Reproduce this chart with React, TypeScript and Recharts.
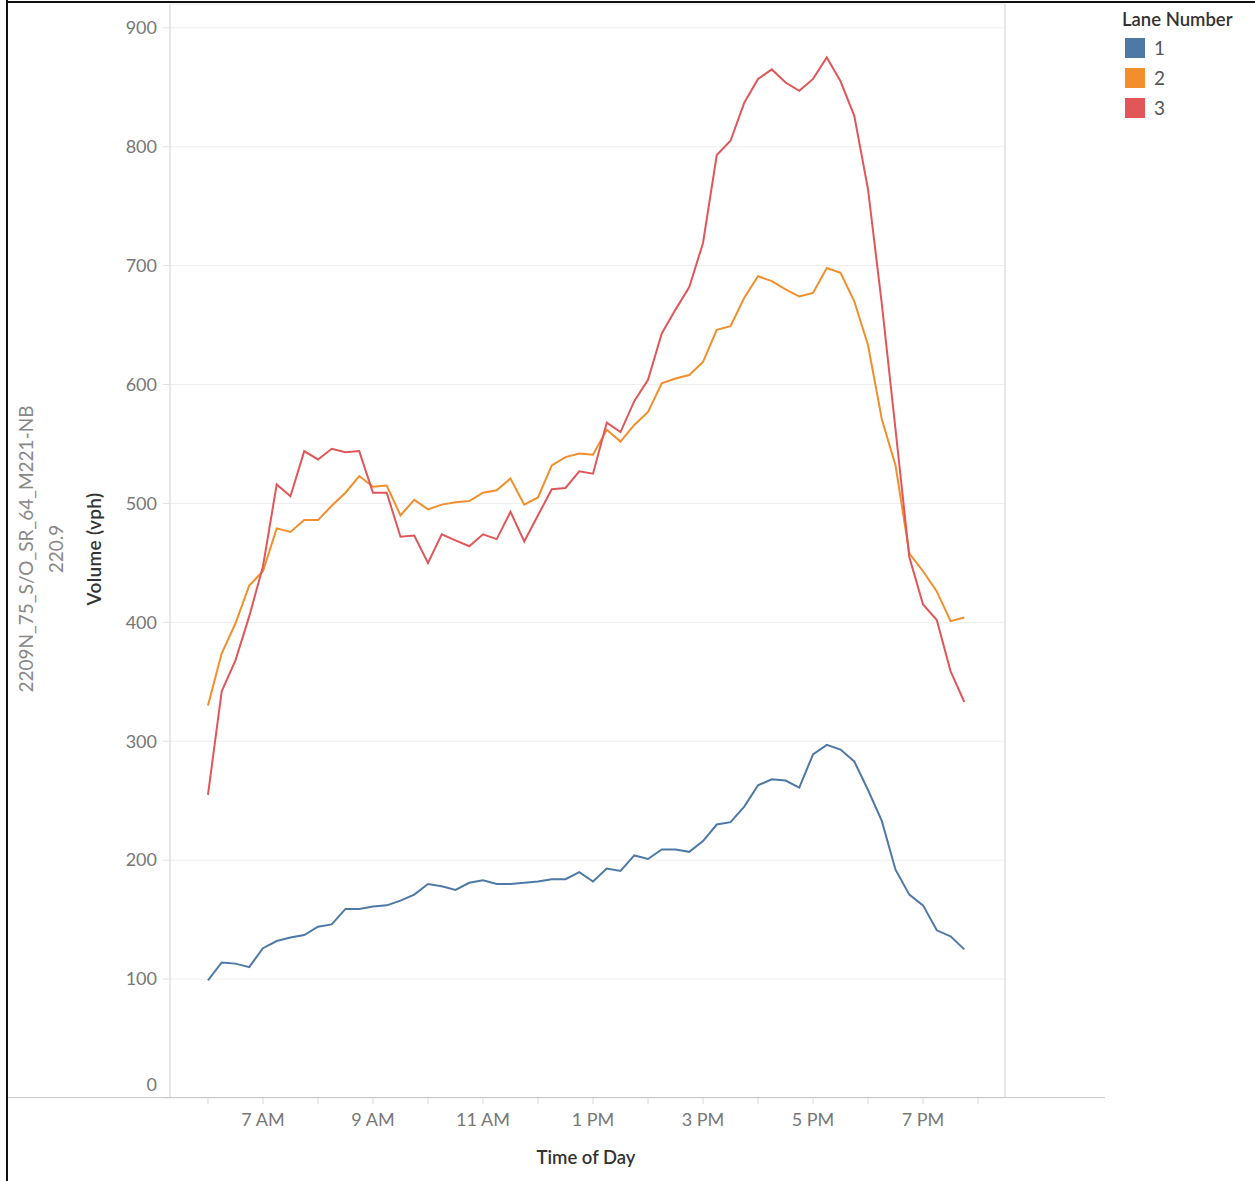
import React from "react";
import { LineChart, Line, XAxis, YAxis, CartesianGrid } from "recharts";

// 15-minute bins, 6:00 to 19:45
const times = [
  "6:00", "6:15", "6:30", "6:45", "7:00", "7:15", "7:30", "7:45",
  "8:00", "8:15", "8:30", "8:45", "9:00", "9:15", "9:30", "9:45",
  "10:00", "10:15", "10:30", "10:45", "11:00", "11:15", "11:30", "11:45",
  "12:00", "12:15", "12:30", "12:45", "13:00", "13:15", "13:30", "13:45",
  "14:00", "14:15", "14:30", "14:45", "15:00", "15:15", "15:30", "15:45",
  "16:00", "16:15", "16:30", "16:45", "17:00", "17:15", "17:30", "17:45",
  "18:00", "18:15", "18:30", "18:45", "19:00", "19:15", "19:30", "19:45",
];

const lane1 = [
  99, 114, 113, 110, 126, 132, 135, 137, 144, 146, 159, 159, 161, 162, 166, 171,
  180, 178, 175, 181, 183, 180, 180, 181, 182, 184, 184, 190, 182, 193, 191, 204,
  201, 209, 209, 207, 216, 230, 232, 245, 263, 268, 267, 261, 289, 297, 293, 283,
  259, 233, 192, 171, 162, 141, 136, 125,
];

const lane2 = [
  330, 374, 399, 431, 443, 479, 476, 486, 486, 498, 509, 523, 514, 515, 490, 503,
  495, 499, 501, 502, 509, 511, 521, 499, 505, 532, 539, 542, 541, 562, 552, 566,
  577, 601, 605, 608, 619, 646, 649, 673, 691, 687, 680, 674, 677, 698, 694, 670,
  633, 571, 532, 458, 443, 426, 401, 404,
];

const lane3 = [
  255, 342, 368, 405, 447, 516, 506, 544, 537, 546, 543, 544, 509, 509, 472, 473,
  450, 474, 469, 464, 474, 470, 493, 468, 490, 512, 513, 527, 525, 568, 560, 586,
  604, 643, 663, 682, 719, 793, 805, 837, 857, 865, 854, 847, 857, 875, 855, 826,
  764, 668, 562, 455, 415, 402, 359, 333,
];

const yTicks = [0, 100, 200, 300, 400, 500, 600, 700, 800, 900];
const hourTicks = [6, 7, 8, 9, 10, 11, 12, 13, 14, 15, 16, 17, 18, 19, 20];
const hourLabels: Record<number, string> = {
  7: "7 AM", 9: "9 AM", 11: "11 AM", 13: "1 PM", 15: "3 PM", 17: "5 PM", 19: "7 PM",
};

const lanes = [
  { key: "l1", name: "1", color: "#4e79a7" },
  { key: "l2", name: "2", color: "#f28e2b" },
  { key: "l3", name: "3", color: "#e15759" },
];

const toHours = (s: string) => {
  const [h, m] = s.split(":").map(Number);
  return h + m / 60;
};

const data = times.map((t, i) => ({
  t: toHours(t),
  l1: lane1[i],
  l2: lane2[i],
  l3: lane3[i],
}));

const FONT = "Lato, 'Open Sans', sans-serif";

const LeftTick = ({ x, y, payload }: any) => (
  <text x={x} y={payload.value === 0 ? y - 13 : y} dy="0.35em" textAnchor="end"
    fill="#777" fontSize={18} fontFamily={FONT}>
    {payload.value}
  </text>
);

const RightTick = ({ x, y, payload }: any) => (
  <text x={x} y={payload.value === 0 ? y - 13 : y} dy="0.35em" textAnchor="start"
    fill="#777" fontSize={18} fontFamily={FONT}>
    {payload.value}
  </text>
);

const HourTick = ({ x, y, payload }: any) => {
  const label = hourLabels[payload.value];
  if (!label) return null;
  return (
    <text x={x} y={y} dy="0.71em" textAnchor="middle" fill="#777" fontSize={18} fontFamily={FONT}>
      {label}
    </text>
  );
};

export default function App() {
  return (
    <div style={{ position: "absolute", left: 0, top: 0, width: 1255, height: 1181, background: "#fff", fontFamily: FONT }}>
      {/* frame */}
      <div style={{ position: "absolute", left: 6, top: 0, width: 2, height: 1181, background: "#111" }} />
      <div style={{ position: "absolute", left: 6, top: 1, width: 1249, height: 2, background: "#111" }} />

      <LineChart width={1255} height={1181} data={data}
        margin={{ top: 4, right: 190, bottom: 23, left: 110 }}>
        <CartesianGrid yAxisId="left" vertical={false} stroke="#eeeeee" />
        <XAxis dataKey="t" type="number" domain={[5.31, 20.49]} ticks={hourTicks}
          allowDataOverflow height={60} axisLine={false}
          tickLine={{ stroke: "#d8d8d8" }} tickSize={6} tickMargin={9}
          tick={<HourTick />} interval={0} />
        <YAxis yAxisId="left" orientation="left" width={60} domain={[0, 920]} ticks={yTicks}
          axisLine={{ stroke: "#cfcfcf" }} tickLine={{ stroke: "#e0e0e0" }} tickSize={7} tickMargin={6}
          tick={<LeftTick />} interval={0} />
        <YAxis yAxisId="right" orientation="right" width={60} domain={[0, 920]} ticks={yTicks}
          axisLine={{ stroke: "#cfcfcf" }} tickLine={{ stroke: "#e0e0e0" }} tickSize={7} tickMargin={6}
          tick={<RightTick />} interval={0} />
        {lanes.map((l) => (
          <Line key={l.key} yAxisId="left" dataKey={l.key} name={l.name} stroke={l.color}
            strokeWidth={2} dot={false} type="linear" isAnimationActive={false} />
        ))}
      </LineChart>

      {/* baseline spanning the pane */}
      <div style={{ position: "absolute", left: 8, top: 1097, width: 1097, height: 1, background: "#c8c8c8" }} />

      {/* row headers and axis titles */}
      <div style={{ position: "absolute", left: 25, top: 549, transform: "translate(-50%, -50%) rotate(-90deg)", whiteSpace: "nowrap", color: "#888", fontSize: 19 }}>
        2209N_75_S/O_SR_64_M221-NB
      </div>
      <div style={{ position: "absolute", left: 55, top: 549, transform: "translate(-50%, -50%) rotate(-90deg)", whiteSpace: "nowrap", color: "#888", fontSize: 19 }}>
        220.9
      </div>
      <div style={{ position: "absolute", left: 93, top: 549, transform: "translate(-50%, -50%) rotate(-90deg)", whiteSpace: "nowrap", color: "#333", fontSize: 19, fontWeight: 600, letterSpacing: 0.3 }}>
        Volume (vph)
      </div>
      <div style={{ position: "absolute", left: 586, top: 1157, transform: "translate(-50%, -50%)", whiteSpace: "nowrap", color: "#333", fontSize: 18.5, fontWeight: 600 }}>
        Time of Day
      </div>

      {/* legend */}
      <div style={{ position: "absolute", left: 1122, top: 8, color: "#333", fontSize: 18.5, fontWeight: 600 }}>
        Lane Number
      </div>
      {lanes.map((l, i) => (
        <div key={l.key} style={{ position: "absolute", left: 1125, top: 36 + i * 30, display: "flex", alignItems: "center" }}>
          <div style={{ width: 20, height: 20, background: l.color }} />
          <span style={{ marginLeft: 9, color: "#555", fontSize: 19 }}>{l.name}</span>
        </div>
      ))}
    </div>
  );
}
